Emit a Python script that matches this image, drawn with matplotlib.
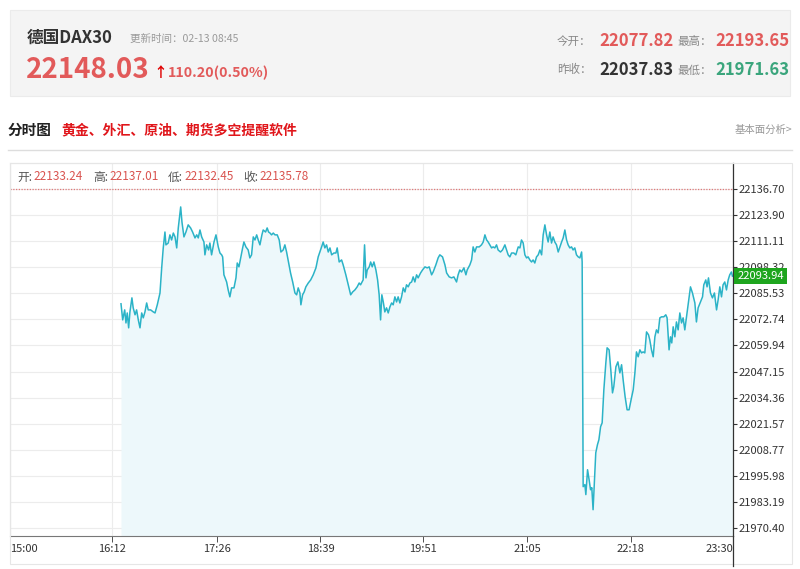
import matplotlib
matplotlib.use('Agg')
import matplotlib.pyplot as plt
import matplotlib.transforms as mtransforms
from matplotlib.patches import Rectangle
from matplotlib.lines import Line2D

plt.rcParams['font.family'] = ['Noto Sans CJK SC', 'DejaVu Sans']

# minutes after 15:00 and index level
minutes = [
    78.3, 79.5, 80.9, 81.8, 82.7, 83.7, 84.6, 86.0, 86.9, 88.2,
    89.3, 90.5, 91.7, 92.9, 94.0, 95.2, 96.4, 97.5, 99.2, 101.1,
    102.3, 103.9, 105.8, 107.0, 108.1, 109.3, 110.0, 111.6, 112.8, 114.0,
    115.2, 116.4, 117.6, 118.7, 120.4, 121.3, 122.7, 124.1, 125.7, 127.4,
    128.8, 130.5, 131.7, 132.8, 134.0, 135.2, 136.8, 137.5, 138.7, 140.1,
    141.0, 142.2, 143.9, 145.3, 146.9, 148.1, 149.3,
    150.0, 150.9, 152.8, 153.9, 155.1, 156.3, 158.0, 159.4, 160.3, 161.5,
    162.7, 164.1, 165.0, 166.4, 168.0, 169.2, 170.4, 171.6, 172.8, 174.0,
    175.1, 176.3, 177.7, 178.6, 180.3, 181.4, 182.4, 183.4, 184.5, 185.7,
    186.9, 188.5, 189.9, 191.1, 192.7, 193.9, 195.1, 196.8, 197.9, 199.4,
    201.0, 202.2, 203.3, 204.5, 205.2, 206.4, 207.5, 208.7, 210.4, 212.1,
    213.9, 215.8, 217.4, 218.6, 219.8, 220.9, 222.1, 223.3, 224.5,
    225.7, 226.9, 228.5, 229.9, 230.8, 232.2, 233.9, 235.0, 236.9, 238.6,
    240.3, 241.7, 243.3, 244.9, 246.3, 247.3, 248.4, 249.1, 250.1, 251.1,
    252.0, 253.4, 254.4, 255.5, 256.7, 258.1, 259.3, 260.4, 261.4, 262.3,
    263.3, 264.4, 265.6, 266.8, 268.0, 269.2, 270.3, 271.5, 272.7, 273.8,
    275.0, 276.2, 277.4, 278.6, 279.7, 280.9, 282.1, 283.3, 284.4, 285.6,
    286.8, 287.9, 289.6, 291.0, 292.7, 294.3, 295.7, 297.4, 298.5, 300.4,
    302.0,
    303.2, 305.1, 306.8, 308.0, 309.8, 311.5, 313.1, 315.0, 316.1, 317.3,
    318.5, 320.2, 321.6, 322.5, 324.4, 325.6, 326.7, 327.9, 329.1, 331.0,
    332.6, 333.8, 335.0, 336.2, 337.3, 338.5, 339.7, 340.8, 342.0, 343.2,
    344.3, 346.0, 347.4, 349.1, 350.3, 351.4, 352.6, 353.8, 355.4, 356.8,
    358.5, 359.7, 360.8, 362.0, 363.2, 364.4, 365.5, 366.7, 367.9, 369.0,
    370.2, 371.4, 372.6, 373.8, 375.0, 376.1, 377.3, 378.5, 379.6, 380.8,
    382.0, 383.1, 384.3, 385.5, 386.7, 387.9, 389.1, 390.2, 391.4, 392.6,
    393.7, 394.9, 396.1, 397.2, 398.4, 399.6, 400.8, 402.0, 403.2,
    403.6, 404.3, 405.5, 406.2, 407.4, 408.5, 409.5, 410.4, 411.3, 412.3,
    413.2, 414.4, 415.4, 416.6, 417.7, 418.9, 420.3, 421.2, 422.6, 423.8,
    425.0, 425.9, 427.4, 428.8, 430.2, 431.4, 432.5, 433.9, 435.3, 436.7,
    438.1, 439.6, 440.8, 441.9, 443.1, 444.3, 445.5, 446.6, 447.8, 449.0,
    450.4, 451.3, 452.5, 453.7, 454.9, 456.0, 457.2, 458.4, 459.6, 461.2,
    462.6, 463.5, 464.9, 465.9, 466.8, 467.8, 469.0, 470.1, 471.3, 472.5,
    473.7, 474.8, 476.0, 477.2, 478.3, 480.0, 481.4, 483.1, 484.2, 485.4,
    487.1, 488.5, 489.4, 490.8, 491.7, 492.7, 494.1, 495.5, 496.9, 498.4,
    499.5, 500.7, 501.9, 503.0, 504.2, 505.4, 506.6, 507.7, 508.9, 509.6,
]
prices = [
    22080.4, 22072.5, 22077.4, 22071.0, 22075.9, 22068.6, 22076.4, 22083.3, 22078.4, 22075.0,
    22077.4, 22072.5, 22068.6, 22075.9, 22073.5, 22076.4, 22080.8, 22077.4, 22077.4, 22076.4,
    22075.9, 22079.9, 22085.7, 22098.0, 22107.8, 22115.6, 22109.3, 22110.2, 22114.2, 22111.7,
    22115.1, 22113.2, 22107.8, 22117.6, 22127.9, 22120.5, 22113.2, 22115.6, 22119.1, 22117.6,
    22115.6, 22112.7, 22114.2, 22112.7, 22116.6, 22113.2, 22110.7, 22104.4, 22109.3, 22106.8,
    22110.2, 22104.4, 22110.7, 22114.2, 22108.3, 22105.3, 22104.4,
    22103.4, 22094.6, 22091.1, 22087.2, 22083.8, 22088.2, 22088.2, 22093.1, 22100.4, 22098.5,
    22102.9, 22107.8, 22110.7, 22108.3, 22106.8, 22102.9, 22104.4, 22113.2, 22111.7, 22114.2,
    22111.7, 22109.3, 22114.2, 22116.6, 22115.6, 22117.6, 22115.6, 22115.1, 22114.2, 22115.1,
    22114.2, 22114.2, 22111.7, 22105.8, 22106.8, 22109.3, 22105.8, 22099.5, 22095.5, 22091.1,
    22085.7, 22084.8, 22088.2, 22085.7, 22079.9, 22084.8, 22086.2, 22088.7, 22090.6, 22092.1,
    22094.6, 22098.0, 22103.4, 22105.8, 22108.3, 22110.7, 22107.8, 22109.3, 22105.8,
    22107.8, 22104.4, 22105.3, 22105.3, 22107.8, 22100.9, 22101.9, 22099.5, 22094.6, 22089.7,
    22084.8, 22086.2, 22087.2, 22088.7, 22090.6, 22089.7, 22091.1, 22092.1, 22109.3, 22093.1,
    22097.0, 22098.5, 22100.9, 22098.5, 22100.9, 22097.0, 22092.1, 22084.8, 22072.5, 22084.8,
    22081.3, 22076.4, 22078.4, 22075.9, 22078.9, 22080.8, 22079.9, 22083.8, 22081.3, 22083.8,
    22080.8, 22083.8, 22088.2, 22086.2, 22089.7, 22088.7, 22090.6, 22091.1, 22093.6, 22091.1,
    22094.6, 22093.1, 22095.5, 22097.0, 22098.5, 22098.0, 22098.5, 22094.6, 22096.0, 22099.5,
    22102.9,
    22104.4, 22103.4, 22099.5, 22095.5, 22093.6, 22093.1, 22093.6, 22091.1, 22094.6, 22097.0,
    22096.0, 22098.0, 22094.6, 22097.0, 22099.5, 22101.9, 22108.3, 22105.8, 22108.3, 22108.3,
    22109.3, 22110.7, 22114.2, 22111.7, 22110.7, 22109.3, 22107.8, 22108.3, 22107.8, 22109.3,
    22106.8, 22105.8, 22106.8, 22109.3, 22106.8, 22104.4, 22103.4, 22105.3, 22105.3, 22104.4,
    22108.3, 22107.8, 22111.7, 22110.2, 22104.4, 22102.9, 22103.4, 22101.9, 22100.9, 22101.9,
    22100.4, 22103.4, 22104.4, 22106.8, 22104.4, 22114.2, 22119.1, 22114.2, 22110.7, 22115.6,
    22110.2, 22113.2, 22110.7, 22109.3, 22105.8, 22108.3, 22110.7, 22112.7, 22116.6, 22111.7,
    22109.3, 22107.8, 22108.3, 22106.8, 22107.8, 22104.4, 22103.4, 22102.9, 22105.8,
    22100.9, 21990.7, 21991.7, 21986.8, 21999.0, 21994.1, 21989.2, 21990.2, 21979.4, 21994.1,
    22007.3, 22011.3, 22013.7, 22020.1, 22022.0, 22038.2, 22051.4, 22058.8, 22057.8, 22048.0,
    22036.7, 22039.7, 22049.5, 22051.9, 22046.5, 22050.5, 22043.1, 22034.8, 22028.4, 22028.4,
    22033.3, 22038.2, 22046.5, 22056.8, 22054.4, 22057.8, 22056.3, 22056.8, 22056.3, 22066.6,
    22065.2, 22062.7, 22057.8, 22054.4, 22064.2, 22067.6, 22066.1, 22073.5, 22074.0, 22074.0,
    22075.0, 22073.5, 22057.8, 22064.2, 22061.2, 22069.1, 22064.2, 22071.5, 22067.6, 22075.9,
    22071.0, 22073.5, 22067.6, 22074.0, 22079.9, 22088.7, 22085.7, 22080.8, 22071.5, 22078.4,
    22081.3, 22083.8, 22089.7, 22092.1, 22088.7, 22093.1, 22085.7, 22083.3, 22085.7, 22077.4,
    22082.3, 22088.7, 22083.8, 22089.7, 22091.1, 22087.2, 22092.1, 22094.6, 22096.0, 22093.94,
]

tick_minutes = [0, 72, 146, 219, 291, 365, 438, 510]
tick_labels = ['15:00', '16:12', '17:26', '18:39', '19:51', '21:05', '22:18', '23:30']
price_ticks = [22136.70, 22123.90, 22111.11, 22098.32, 22085.53, 22072.74, 22059.94,
               22047.15, 22034.36, 22021.57, 22008.77, 21995.98, 21983.19, 21970.40]
y_min, y_max = 21966.5, 22149.45

bar_labels = ['开:', '高:', '低:', '收:']
bar_values = ['22133.24', '22137.01', '22132.45', '22135.78']

W, H = 800, 569


def fx(px):
    return px / W


def fy(py):
    return 1 - py / H


fig = plt.figure(figsize=(8, 5.69), dpi=100)
fig.patch.set_facecolor('white')

# header panel
fig.patches.append(Rectangle((fx(10), fy(96)), fx(790) - fx(10), 86 / H, transform=fig.transFigure,
                             facecolor='#f4f4f4', edgecolor='#ebebeb', lw=0.8))
fig.text(fx(27), fy(38), '德国DAX30', fontsize=12, fontweight='bold', color='#333333', va='center')
fig.text(fx(130), fy(39), '更新时间：02-13 08:45', fontsize=7.6, color='#9a9a9a', va='center')
fig.text(fx(26), fy(70), '22148.03', fontsize=20, fontweight='bold', color='#e25a5a', va='center')
fig.text(fx(153), fy(73), '↑', fontsize=10, fontweight='bold', color='#e00000', va='center')
fig.text(fx(168), fy(73), '110.20(0.50%)', fontsize=10.3, fontweight='bold', color='#e25a5a', va='center')

rows = [
    (41, [('今开：', 557, '#888888', 8.3, 'normal'), ('22077.82', 599, '#e25a5a', 12, 'bold'),
          ('最高：', 677, '#888888', 8.3, 'normal'), ('22193.65', 715, '#e25a5a', 12, 'bold')]),
    (70, [('昨收：', 557, '#888888', 8.3, 'normal'), ('22037.83', 599, '#333333', 12, 'bold'),
          ('最低：', 677, '#888888', 8.3, 'normal'), ('21971.63', 715, '#3aa57c', 12, 'bold')]),
]
for ypix, items in rows:
    for txt, xpix, col, size, weight in items:
        fig.text(fx(xpix), fy(ypix), txt, fontsize=size, color=col, fontweight=weight, va='center')

# section title
fig.text(fx(8), fy(130), '分时图', fontsize=10.5, fontweight='bold', color='#222222', va='center')
fig.text(fx(61), fy(130), '黄金、外汇、原油、期货多空提醒软件', fontsize=10, fontweight='bold',
         color='#e0161b', va='center')
fig.text(fx(792), fy(130), '基本面分析>', fontsize=7.5, color='#999999', va='center', ha='right')
fig.lines.append(Line2D([fx(8), fx(792)], [fy(150), fy(150)], transform=fig.transFigure,
                        color='#dddddd', lw=1))

# chart frame
fig.patches.append(Rectangle((fx(10), fy(564)), fx(792) - fx(10), (564 - 163) / H, transform=fig.transFigure,
                             facecolor='none', edgecolor='#e6e6e6', lw=0.8))

ax = fig.add_axes([fx(10), fy(536), fx(733) - fx(10), (536 - 163) / H])
ax.fill_between(minutes, prices, y_min, color='#edf8fb', lw=0)
ax.plot(minutes, prices, color='#2bb3c7', lw=1.1)
ax.axhline(price_ticks[0], color='#e07a7a', ls=(0, (1, 1.2)), lw=0.9)

ax.set_xlim(0, 510)
ax.set_ylim(y_min, y_max)
ax.set_xticks(tick_minutes)
ax.set_xticklabels(tick_labels)
xl = ax.get_xticklabels()
xl[0].set_ha('left')
xl[-1].set_ha('right')
ax.set_yticks(price_ticks)
ax.set_yticklabels([f'{v:.2f}' for v in price_ticks])
ax.yaxis.tick_right()
ax.tick_params(axis='y', labelsize=8, colors='#333333', length=3, pad=1, width=0.8)
ax.tick_params(axis='x', labelsize=8, colors='#333333', length=4, pad=2, width=0.6)
ax.grid(color='#ececec', lw=0.8)
ax.set_axisbelow(True)
for side in ['left', 'top']:
    ax.spines[side].set_color('#e6e6e6')
    ax.spines[side].set_linewidth(0.8)
ax.spines['right'].set_color('#333333')
ax.spines['right'].set_linewidth(0.9)
ax.spines['bottom'].set_color('#777777')
ax.spines['bottom'].set_linewidth(0.8)
fig.lines.append(Line2D([fx(733), fx(733)], [fy(536), fy(566)], transform=fig.transFigure,
                        color='#333333', lw=0.9))

# OHLC bar of the last candle
xpos = [17, 93, 168, 243]
for lab, val, xp in zip(bar_labels, bar_values, xpos):
    fig.text(fx(xp), fy(177), lab, fontsize=8.5, color='#555555', va='center')
    fig.text(fx(xp + 16), fy(177), val, fontsize=8.5, color='#d9534f', va='center')

# last price tag
trans = mtransforms.blended_transform_factory(ax.transAxes, ax.transData)
ax.text(1.006, prices[-1], f'{prices[-1]:.2f}', transform=trans, fontsize=8, color='white',
        va='center', ha='left', zorder=5,
        bbox=dict(boxstyle='square,pad=0.28', facecolor='#1ea51e', edgecolor='none'))

fig.savefig('out.png', dpi=100)
